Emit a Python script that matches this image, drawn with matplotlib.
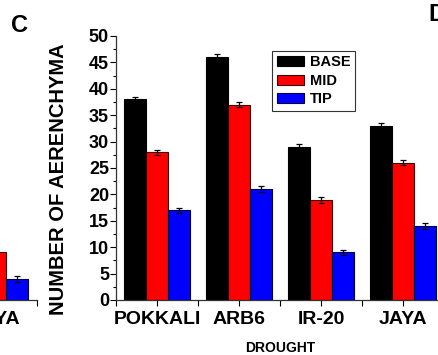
import numpy as np
import matplotlib.pyplot as plt
from matplotlib.ticker import MultipleLocator

plt.rcParams['font.family'] = ['Liberation Sans', 'DejaVu Sans']
plt.rcParams['font.weight'] = 'bold'

# data (panel D, drought)
varieties = ['POKKALI', 'ARB6', 'IR-20', 'JAYA']
base = [38, 46, 29, 33]
mid = [28, 37, 19, 26]
tip = [17, 21, 9, 14]
base_err = [0.5, 0.5, 0.5, 0.5]
mid_err = [0.5, 0.5, 0.55, 0.5]
tip_err = [0.5, 0.5, 0.55, 0.5]

# only the right end of the neighbouring panel (C) is visible
c_mid = [9]
c_tip = [4]
c_tip_err = [0.6]

colors = ['black', 'red', 'blue']
names = ['BASE', 'MID', 'TIP']
w = 0.268

fig = plt.figure(figsize=(4.39, 3.55), dpi=100)
W, H = 439.0, 355.0


def style_axes(ax):
    ax.set_xlim(-0.5, 3.5)
    ax.set_ylim(0, 50)
    for s in ['top', 'right']:
        ax.spines[s].set_visible(False)
    for s in ['left', 'bottom']:
        ax.spines[s].set_linewidth(0.9)
        ax.spines[s].set_color('#333333')
    ax.yaxis.set_major_locator(MultipleLocator(5))
    ax.yaxis.set_minor_locator(MultipleLocator(2.5))
    ax.set_xticks(range(4))
    ax.set_xticks(np.arange(-0.5, 4, 1), minor=True)
    ax.set_xticklabels(varieties, fontsize=14, fontweight='bold')
    ax.tick_params(axis='y', which='major', labelsize=13, length=4, width=0.8, pad=1)
    ax.tick_params(axis='y', which='minor', length=2.5, width=0.8)
    ax.tick_params(axis='x', which='major', length=4, width=0.8, pad=4)
    ax.tick_params(axis='x', which='minor', length=4, width=0.8)
    for t in ax.get_yticklabels():
        t.set_fontweight('bold')


# panel C (cropped, left)
axc = fig.add_axes([(36.5 - 328) / W, 55 / H, 328 / W, 264 / H])
style_axes(axc)
axc.bar([3], c_mid, w, color='red', edgecolor='#400000', linewidth=0.8)
axc.bar([3 + w], c_tip, w, color='blue', edgecolor='#000040', linewidth=0.8,
        yerr=c_tip_err, capsize=2.5, error_kw=dict(elinewidth=0.9, capthick=0.9))
axc.set_xticks([3])
axc.set_xticklabels(['JAYA'], fontsize=14, fontweight='bold')
axc.tick_params(axis='y', which='both', left=False, labelleft=False)
axc.spines['left'].set_visible(False)

# panel D
ax = fig.add_axes([116 / W, 55 / H, 328 / W, 264 / H])
style_axes(ax)
x = np.arange(len(varieties))
series = [(base, base_err), (mid, mid_err), (tip, tip_err)]
edges = ['black', '#400000', '#000040']
handles = []
for i, (vals, errs) in enumerate(series):
    b = ax.bar(x + (i - 1) * w, vals, w, color=colors[i], edgecolor=edges[i],
               linewidth=0.8, yerr=errs, capsize=2.5,
               error_kw=dict(elinewidth=0.9, capthick=0.9), label=names[i])
    handles.append(b)

ax.set_ylabel('NUMBER OF AERENCHYMA', fontsize=14.5, fontweight='bold')
ax.yaxis.set_label_coords(-0.146, 0.458)
ax.set_xlabel('DROUGHT', fontsize=10, fontweight='bold')
ax.xaxis.set_label_coords(0.5, -0.155)

leg = ax.legend(handles=handles, loc='upper left', bbox_to_anchor=(0.476, 0.943),
                borderaxespad=0, fancybox=False, frameon=True, fontsize=10.5,
                handlelength=1.9, handleheight=0.7, labelspacing=0.3,
                handletextpad=0.4, borderpad=0.3)
leg.get_frame().set_edgecolor('black')
leg.get_frame().set_linewidth(0.8)
for t in leg.get_texts():
    t.set_fontweight('bold')

fig.text(20 / W, 1 - 25 / H, 'C', fontsize=17, fontweight='bold', ha='center', va='center')
fig.text(428 / W, 1 - 3 / H, 'D', fontsize=17, fontweight='bold', ha='left', va='top')

fig.savefig('out.png', dpi=100)
